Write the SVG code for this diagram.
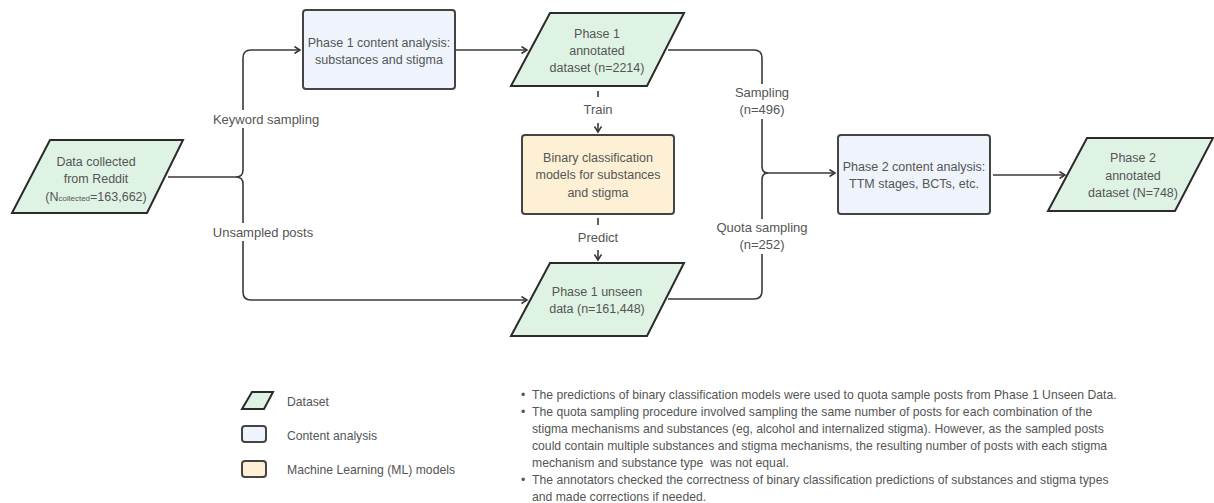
<svg xmlns="http://www.w3.org/2000/svg" width="1214" height="503" viewBox="0 0 1214 503">
<defs>
<marker id="arr" markerWidth="10" markerHeight="10" refX="6" refY="4" orient="auto" markerUnits="userSpaceOnUse">
<path d="M0.5,0.5 L6,4 L0.5,7.5" fill="none" stroke="#333" stroke-width="1.5"/>
</marker>
<style>
text{font-family:"Liberation Sans",Arial,sans-serif;fill:#555;font-size:13px}
.c{text-anchor:middle}
.n{font-size:12.5px}
.ds{fill:#dff3e5;stroke:#2b2b2b;stroke-width:2}
.ca{fill:#eef3fc;stroke:#444;stroke-width:2}
.ml{fill:#fdf0d4;stroke:#444;stroke-width:2}
.ln{fill:none;stroke:#3a3a3a;stroke-width:1.6}
.bg{fill:#fff}
.nt{font-size:12.2px}
</style>
</defs>
<rect width="1214" height="503" fill="#fff"/>
<g id="connectors">
<path class="ln" d="M168,177 H236 Q243,177 243,170 V58 Q243,50 251,50 H300" marker-end="url(#arr)"/>
<path class="ln" d="M236,177 Q243,177 243,184 V292 Q243,300 251,300 H527" marker-end="url(#arr)"/>
<path class="ln" d="M455,50 H527" marker-end="url(#arr)"/>
<path class="ln" d="M668,50 H754 Q762,50 762,58 V166 Q762,173 768,173"/>
<path class="ln" d="M668,299 H754 Q762,299 762,291 V180 Q762,173 768,173 H835" marker-end="url(#arr)"/>
<path class="ln" d="M993,175 H1065" marker-end="url(#arr)"/>
<path class="ln" d="M598,91 V97"/>
<path class="ln" d="M598,123 V132" marker-end="url(#arr)"/>
<path class="ln" d="M598,218 V225"/>
<path class="ln" d="M598,250 V260" marker-end="url(#arr)"/>
<rect class="bg" x="212" y="110" width="110" height="18"/>
<rect class="bg" x="212" y="223" width="104" height="18"/>
<rect class="bg" x="730" y="84" width="64" height="35"/>
<rect class="bg" x="712" y="219" width="100" height="35"/>
<text class="c" x="266" y="124">Keyword sampling</text>
<text class="c" x="263" y="237">Unsampled posts</text>
<text class="c" x="762" y="97">Sampling</text>
<text class="c" x="762" y="114">(n=496)</text>
<text class="c" x="762" y="232">Quota sampling</text>
<text class="c" x="762" y="249">(n=252)</text>
<text class="c" x="598" y="114">Train</text>
<text class="c" x="598" y="242">Predict</text>
</g>
<g id="n-data">
<polygon class="ds" points="50,140 183,140 147,213 12,213"/>
<text class="c n" x="96" y="166">Data collected</text>
<text class="c n" x="96" y="183">from Reddit</text>
<text class="c n" x="96" y="201">(N<tspan font-size="8">collected</tspan>=163,662)</text>
</g>
<g id="n-p1ca">
<rect class="ca" x="303" y="10" width="152" height="79" rx="3"/>
<text class="c n" x="379" y="47">Phase 1 content analysis:</text>
<text class="c n" x="379" y="64">substances and stigma</text>
</g>
<g id="n-p1ad">
<polygon class="ds" points="550,13 684,13 647,86 511,86"/>
<text class="c n" x="597" y="38">Phase 1</text>
<text class="c n" x="597" y="55">annotated</text>
<text class="c n" x="597" y="72">dataset (n=2214)</text>
</g>
<g id="n-ml">
<rect class="ml" x="522" y="135" width="152" height="79" rx="3"/>
<text class="c n" x="598" y="162">Binary classification</text>
<text class="c n" x="598" y="179">models for substances</text>
<text class="c n" x="598" y="197">and stigma</text>
</g>
<g id="n-p1ud">
<polygon class="ds" points="550,263 684,263 647,336 511,336"/>
<text class="c n" x="597" y="296">Phase 1 unseen</text>
<text class="c n" x="597" y="313">data (n=161,448)</text>
</g>
<g id="n-p2ca">
<rect class="ca" x="838" y="135" width="152" height="79" rx="3"/>
<text class="c n" x="914" y="171">Phase 2 content analysis:</text>
<text class="c n" x="914" y="188">TTM stages, BCTs, etc.</text>
</g>
<g id="n-p2ad">
<polygon class="ds" points="1087,138 1213,138 1175,211 1048,211"/>
<text class="c n" x="1133" y="162">Phase 2</text>
<text class="c n" x="1133" y="180">annotated</text>
<text class="c n" x="1133" y="197">dataset (N=748)</text>
</g>
<g id="legend">
<polygon class="ds" points="252,392 273,392 264,409 242,409" stroke-width="1.5"/>
<text x="287" y="406" class="nt">Dataset</text>
<rect class="ca" x="242" y="426" width="24" height="16" rx="3" stroke-width="1.5"/>
<text x="287" y="440" class="nt">Content analysis</text>
<rect class="ml" x="242" y="461" width="24" height="16" rx="3" stroke-width="1.5"/>
<text x="287" y="474" class="nt">Machine Learning (ML) models</text>
</g>
<g id="notes">
<text class="nt" x="521" y="399">•</text>
<text class="nt" x="532" y="399">The predictions of binary classification models were used to quota sample posts from Phase 1 Unseen Data.</text>
<text class="nt" x="521" y="416">•</text>
<text class="nt" x="532" y="416">The quota sampling procedure involved sampling the same number of posts for each combination of the</text>
<text class="nt" x="532" y="433">stigma mechanisms and substances (eg, alcohol and internalized stigma). However, as the sampled posts</text>
<text class="nt" x="532" y="450">could contain multiple substances and stigma mechanisms, the resulting number of posts with each stigma</text>
<text class="nt" x="532" y="467" xml:space="preserve">mechanism and substance type  was not equal.</text>
<text class="nt" x="521" y="484">•</text>
<text class="nt" x="532" y="484">The annotators checked the correctness of binary classification predictions of substances and stigma types</text>
<text class="nt" x="532" y="501">and made corrections if needed.</text>
</g>
</svg>
